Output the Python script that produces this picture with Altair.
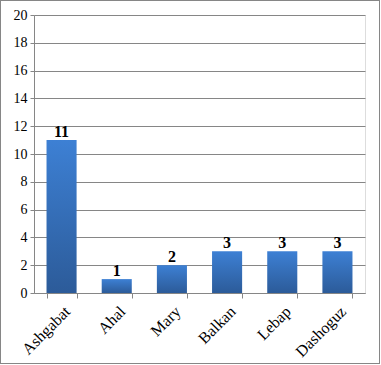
import altair as alt
import pandas as pd

regions = ["Ashgabat", "Ahal", "Mary", "Balkan", "Lebap", "Dashoguz"]
counts = [11, 1, 2, 3, 3, 3]
y_ticks = [0, 2, 4, 6, 8, 10, 12, 14, 16, 18, 20]

df = pd.DataFrame({"region": regions, "count": counts})

W, H = 331, 278
PL, PT, PR, PB = 34, 15, 16, 72

xenc = alt.X("region:N", sort=regions, title=None,
             scale=alt.Scale(paddingInner=0.455, paddingOuter=0.227),
             axis=alt.Axis(labelAngle=-45, labelFont="Liberation Serif", labelFontSize=16,
                           labelColor="#000000", domainColor="#868686", tickColor="#868686",
                           tickBand="extent", tickSize=5, labelPadding=5, labelOverlap=False))
yenc = alt.Y("count:Q", title=None,
             scale=alt.Scale(domain=[0, 20], nice=False),
             axis=alt.Axis(values=y_ticks, labelFont="Liberation Serif", labelFontSize=14,
                           labelColor="#000000", domainColor="#868686", tickColor="#868686",
                           gridColor="#868686", gridOpacity=1, grid=True, tickSize=4,
                           labelPadding=3, labelOverlap=False))

bars = alt.Chart(df).mark_bar(
    color=alt.Gradient(gradient="linear", x1=0, y1=0, x2=0, y2=1,
                       stops=[alt.GradientStop(color="#3d80d4", offset=0),
                              alt.GradientStop(color="#2c5b99", offset=1)])
).encode(x=xenc, y=yenc)

labels = alt.Chart(df).mark_text(
    dy=-8, font="Liberation Serif", fontSize=16, fontWeight="bold", color="#000000"
).encode(x=xenc, y=yenc, text="count:Q")

border = alt.Chart(df).mark_rect(fill=None, stroke="#868686", strokeWidth=1).encode(
    x=alt.value(-PL + 0.5), x2=alt.value(W + PR - 1.5),
    y=alt.value(-PT + 0.5), y2=alt.value(H + PB - 1.5))

chart = alt.layer(bars, labels, border).properties(
    width=W, height=H,
    autosize=alt.AutoSizeParams(type="none"),
    padding={"left": PL, "top": PT, "right": PR, "bottom": PB},
).configure_view(stroke=None).configure(background="#ffffff")

chart.save("out.html", embed_options={"renderer": "svg", "actions": False})
